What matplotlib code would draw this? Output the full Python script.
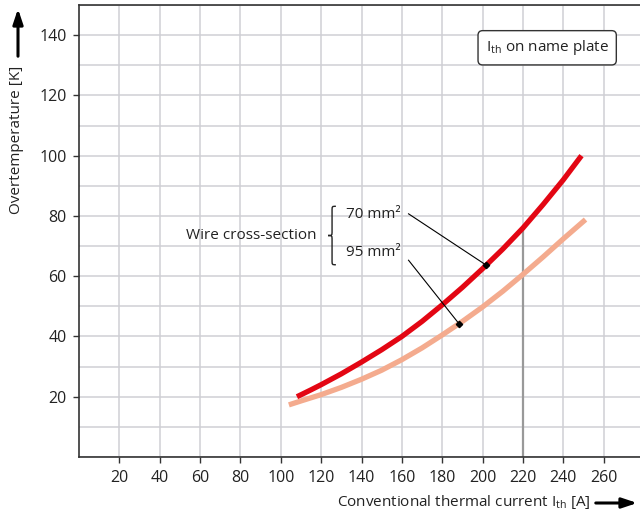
import numpy as np
import matplotlib.pyplot as plt
from matplotlib.path import Path
from matplotlib.patches import PathPatch
from matplotlib.ticker import MultipleLocator

plt.rcParams['font.family'] = ['Open Sans', 'DejaVu Sans']
plt.rcParams['mathtext.fontset'] = 'custom'
plt.rcParams['mathtext.rm'] = 'Open Sans'

# conventional thermal current [A] and overtemperature [K]
current_70 = [108, 115, 120, 130, 140, 150, 160, 170, 180, 190, 200, 210, 220, 230, 240, 249]
temp_70 = [20, 22.3, 24, 27.6, 31.5, 35.6, 40, 45, 50.5, 56.3, 62.5, 69, 76, 83.8, 92, 100]
current_95 = [104, 110, 120, 130, 140, 150, 160, 170, 180, 190, 200, 210, 220, 230, 240, 251]
temp_95 = [17.3, 18.6, 20.7, 23.1, 25.8, 28.8, 32.3, 36.2, 40.5, 45, 49.8, 55, 60.6, 66.4, 72.4, 78.8]

x_ticks = [20, 40, 60, 80, 100, 120, 140, 160, 180, 200, 220, 240, 260]
y_ticks = [20, 40, 60, 80, 100, 120, 140]
rated_current = 220

RED = '#e30613'
SALMON = '#f4ab8e'
GRID = '#cfcfd4'
TXT = '#222222'

fig = plt.figure(figsize=(6.4, 5.15), dpi=100)
ax = fig.add_axes([79 / 640, 58 / 515, 1 - 79 / 640, 452 / 515])

ax.set_xlim(0, 278)
ax.set_ylim(0, 150)
ax.set_xticks(x_ticks)
ax.set_yticks(y_ticks)
ax.yaxis.set_minor_locator(MultipleLocator(10))
ax.tick_params(which='minor', length=0)
ax.tick_params(which='major', direction='out', length=4, width=1, color='#333333',
               labelsize=11.5, labelcolor=TXT, pad=5)
ax.grid(True, which='both', color=GRID, lw=1.1)
ax.grid(False, axis='x', which='minor')
ax.set_axisbelow(True)
for s in ['left', 'bottom', 'top']:
    ax.spines[s].set_color('#333333')
    ax.spines[s].set_linewidth(1.2)
ax.spines['right'].set_visible(False)

# I_th marker line up to the 70 mm2 curve
t_at_rated = np.interp(rated_current, current_70, temp_70)
ax.plot([rated_current, rated_current], [0, t_at_rated], color='#999999', lw=1.6, zorder=2)

ax.plot(current_95, temp_95, color=SALMON, lw=3.8, solid_capstyle='butt', zorder=3)
ax.plot(current_70, temp_70, color=RED, lw=3.8, solid_capstyle='butt', zorder=4)

# leader lines
p70 = (201.8, np.interp(201.8, current_70, temp_70))
p95 = (188.3, np.interp(188.3, current_95, temp_95))
ax.plot([163.3, p70[0]], [80.7, p70[1]], color='black', lw=0.8, zorder=5)
ax.plot([163.3, p95[0]], [65.3, p95[1]], color='black', lw=0.8, zorder=5)
ax.plot([p70[0], p95[0]], [p70[1], p95[1]], 'kD', ms=3.2, lw=0, zorder=6)

ax.text(132.4, 80.5, '70 mm²', fontsize=11, va='center', ha='left', color=TXT)
ax.text(132.4, 68.0, '95 mm²', fontsize=11, va='center', ha='left', color=TXT)
ax.text(53, 73.5, 'Wire cross-section', fontsize=11, va='center', ha='left', color=TXT)

# curly brace
xt, xs, xm = 127.3, 125.4, 123.4
yt, ym, yb = 83.2, 73.5, 63.8
verts = [(xt, yt), (xs, yt), (xs, yt), (xs, yt - 1.5),
         (xs, ym + 1.5),
         (xs, ym), (xs, ym), (xm, ym),
         (xs, ym), (xs, ym), (xs, ym - 1.5),
         (xs, yb + 1.5),
         (xs, yb), (xs, yb), (xt, yb)]
codes = [Path.MOVETO, Path.CURVE4, Path.CURVE4, Path.CURVE4,
         Path.LINETO,
         Path.CURVE4, Path.CURVE4, Path.CURVE4,
         Path.CURVE4, Path.CURVE4, Path.CURVE4,
         Path.LINETO,
         Path.CURVE4, Path.CURVE4, Path.CURVE4]
ax.add_patch(PathPatch(Path(verts, codes), fill=False, lw=1.0, ec=TXT))

ax.text(232, 135.8, r'I$_{\rm th}$ on name plate', fontsize=11, ha='center', va='center',
        color=TXT,
        bbox=dict(boxstyle='round,pad=0.5,rounding_size=0.3', fc='white', ec='#333333', lw=1))

# axis titles with arrows
fig.text(17 / 640, 1 - 140 / 515, 'Overtemperature [K]', rotation=90, fontsize=11,
         ha='center', va='center', color=TXT)
ax.annotate('', xy=(18 / 640, 1 - 6 / 515), xytext=(18 / 640, 1 - 59 / 515),
            xycoords='figure fraction', textcoords='figure fraction',
            arrowprops=dict(arrowstyle='-|>,head_length=0.9,head_width=0.3', color='black', lw=2.2))
fig.text(464 / 640, 1 - 502 / 515, r'Conventional thermal current I$_{\rm th}$ [A]', fontsize=11,
         ha='center', va='center', color=TXT)
ax.annotate('', xy=(640 / 640, 1 - 503 / 515), xytext=(593 / 640, 1 - 503 / 515),
            xycoords='figure fraction', textcoords='figure fraction',
            arrowprops=dict(arrowstyle='-|>,head_length=0.9,head_width=0.3', color='black', lw=2.2))

fig.savefig('out.png', dpi=100)
